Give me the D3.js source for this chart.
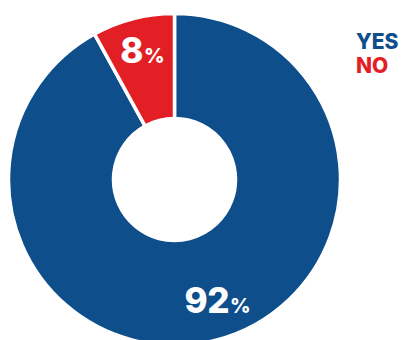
<!DOCTYPE html>
<html>
<head>
<meta charset="utf-8">
<script src="https://cdn.jsdelivr.net/npm/d3@7"></script>
<style>
  body { margin: 0; background: #fff; }
  text { font-family: Inter, "Open Sans", sans-serif; font-weight: 800; }
</style>
</head>
<body>
<div id="chart"></div>
<script>
var labels = ["YES", "NO"];
var values = [92, 8];
var colors = ["#0d4e8b", "#e31f26"];

var width = 402,
    height = 340,
    cx = 174.5,
    cy = 179.5,
    radius = 166;

var svg = d3.select("#chart")
    .append("svg")
    .attr("width", width)
    .attr("height", height);

var g = svg.append("g")
    .attr("transform", "translate(" + cx + "," + cy + ")");

var color = d3.scaleOrdinal()
    .domain(labels)
    .range(colors);

var pie = d3.pie()
    .sort(null)
    .value(function (d) { return d.value; });

var data = labels.map(function (l, i) { return { label: l, value: values[i] }; });

var arc = d3.arc()
    .outerRadius(radius)
    .innerRadius(61);

var labelArc = d3.arc()
    .outerRadius(radius * 0.8)
    .innerRadius(radius * 0.8);

// nudges so labels sit where the original put them
var nudge = { YES: [10, -8], NO: [1, -1] };

var slices = pie(data);

g.selectAll("path.slice")
    .data(slices)
    .enter()
    .append("path")
    .attr("class", "slice")
    .attr("d", arc)
    .style("fill", function (d) { return color(d.data.label); })
    .style("stroke", "#fff")
    .style("stroke-width", 3.5);

var lbl = g.selectAll("text.value")
    .data(slices)
    .enter()
    .append("text")
    .attr("class", "value")
    .attr("text-anchor", "middle")
    .attr("fill", "#fff")
    .attr("transform", function (d) {
        var c = labelArc.centroid(d);
        var n = nudge[d.data.label];
        return "translate(" + (c[0] + n[0]) + "," + (c[1] + n[1] + 13) + ")";
    });

lbl.append("tspan")
    .style("font-size", "35px")
    .style("letter-spacing", "-0.5px")
    .text(function (d) { return d.data.value; });
lbl.append("tspan")
    .style("font-size", "20px")
    .attr("dx", 1)
    .text("%");

var legend = svg.append("g")
    .attr("transform", "translate(356,49)");

legend.selectAll("text")
    .data(labels)
    .enter()
    .append("text")
    .attr("y", function (d, i) { return i * 24; })
    .attr("fill", function (d) { return color(d); })
    .style("font-size", "21px")
    .text(function (d) { return d; });
</script>
</body>
</html>
